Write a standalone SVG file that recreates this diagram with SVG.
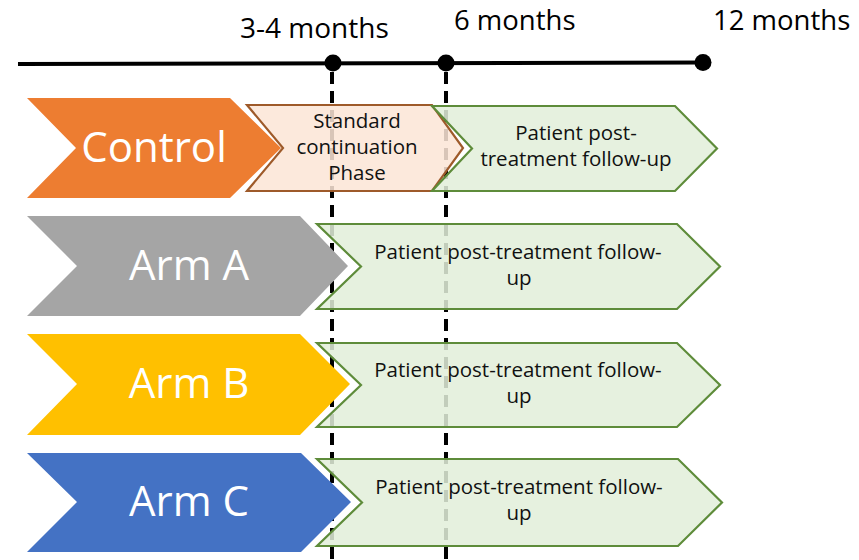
<svg xmlns="http://www.w3.org/2000/svg" width="859" height="560" viewBox="0 0 859 560">
<style>
  .tl { font-family: "Open Sans", "Liberation Sans", sans-serif; font-size: 28px; fill: #000; }
  .tl2 { font-family: "Open Sans", "Liberation Sans", sans-serif; font-size: 27.5px; fill: #000; }
  .big { font-family: "Open Sans", "Liberation Sans", sans-serif; font-size: 42px; fill: #fff; text-anchor: middle; }
  .sm { font-family: "Open Sans", "Liberation Sans", sans-serif; font-size: 20.5px; fill: #111; text-anchor: middle; }
  .green { fill: #E2EFDA; fill-opacity: 0.86; stroke: #5E8C3A; stroke-width: 2.2; stroke-linejoin: miter; }
  .peach { fill: #FBE5D6; fill-opacity: 0.86; stroke: #9E5A2A; stroke-width: 2.2; }
  .dash { stroke: #000; stroke-width: 4; stroke-dasharray: 12 7; fill: none; }
</style>
<rect width="859" height="560" fill="#fff"/>

<g id="connectors">
  <line x1="18" y1="64" x2="703" y2="62.5" stroke="#000" stroke-width="4"/>
  <line class="dash" x1="332" y1="72" x2="332" y2="560"/>
  <line class="dash" x1="446" y1="72" x2="446" y2="560"/>
  <circle cx="333" cy="63" r="8.5" fill="#000"/>
  <circle cx="446" cy="63" r="8.5" fill="#000"/>
  <circle cx="703" cy="62.5" r="8.5" fill="#000"/>
</g>

<g id="timeline-labels">
  <text class="tl" x="240" y="38">3-4 months</text>
  <text class="tl2" x="454" y="29.5">6 months</text>
  <text class="tl2" x="713" y="29.5">12 months</text>
</g>

<g id="control">
  <polygon points="27,98 230,98 281,148 230,198 27,198 76,148" fill="#ED7D31"/>
  <text class="big" x="154" y="162">Control</text>
</g>

<g id="standard-continuation">
  <polygon class="peach" points="247,105 432,105 463,148 432,191 247,191 283,148"/>
  <text class="sm" x="357" y="128">Standard</text>
  <text class="sm" x="357" y="154">continuation</text>
  <text class="sm" x="357" y="180">Phase</text>
</g>

<g id="control-followup">
  <polygon class="green" points="432,106 675,106 717,148.5 675,191 432,191 472,148.5"/>
  <text class="sm" x="576" y="140">Patient post-</text>
  <text class="sm" x="576" y="166">treatment follow-up</text>
</g>

<g id="arm-a">
  <polygon points="27,216 300,216 348,266 300,316 27,316 77,266" fill="#A5A5A5"/>
  <text class="big" x="189" y="280">Arm A</text>
</g>

<g id="arm-a-followup">
  <polygon class="green" points="317,224 677,224 720,266.5 677,309 317,309 361,266.5"/>
  <text class="sm" x="518" y="259">Patient post-treatment follow-</text>
  <text class="sm" x="519" y="285">up</text>
</g>

<g id="arm-b">
  <polygon points="27,334 300,334 350,384 300,435 27,435 77,384" fill="#FFC000"/>
  <text class="big" x="189" y="398">Arm B</text>
</g>

<g id="arm-b-followup">
  <polygon class="green" points="317,343 677,343 720,385 677,427 317,427 361,385"/>
  <text class="sm" x="518" y="377">Patient post-treatment follow-</text>
  <text class="sm" x="519" y="403">up</text>
</g>

<g id="arm-c">
  <polygon points="27,453 301,453 351,502 301,552 27,552 77,502" fill="#4472C4"/>
  <text class="big" x="189" y="516">Arm C</text>
</g>

<g id="arm-c-followup">
  <polygon class="green" points="317,459 678,459 722,502.5 678,546 317,546 362,502.5"/>
  <text class="sm" x="519" y="494">Patient post-treatment follow-</text>
  <text class="sm" x="519" y="520">up</text>
</g>
</svg>
